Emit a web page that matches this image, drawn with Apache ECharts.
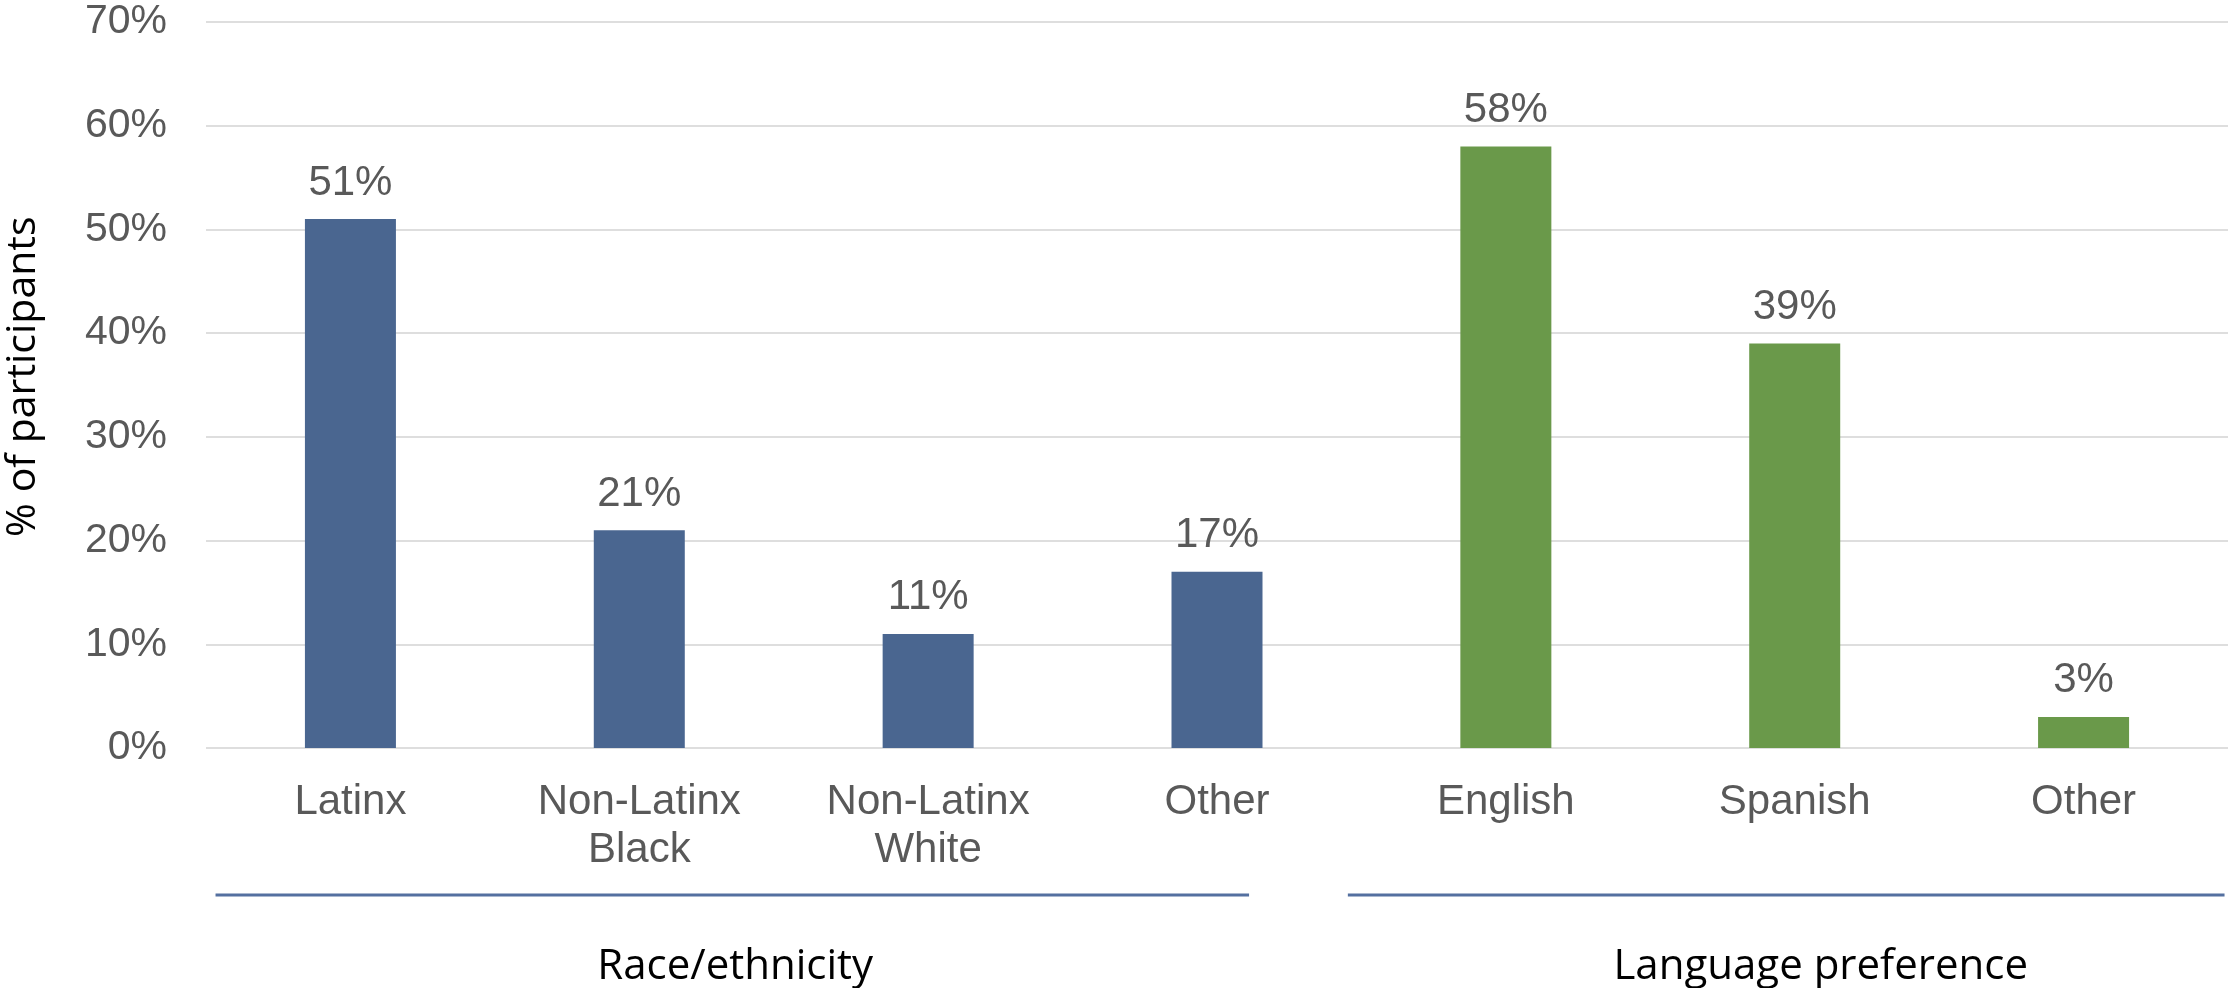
<!DOCTYPE html>
<html>
<head>
<meta charset="utf-8">
<title>Participants by race/ethnicity and language preference</title>
<script src="https://cdn.jsdelivr.net/npm/echarts@6/dist/echarts.min.js"></script>
<style>
  html, body { margin: 0; padding: 0; background: #ffffff; }
  #chart { width: 2228px; height: 988px; }
</style>
</head>
<body>
<div id="chart"></div>
<script>
// Category labels along the x axis
const categories = ['Latinx', 'Non-Latinx\nBlack', 'Non-Latinx\nWhite', 'Other', 'English', 'Spanish', 'Other'];
// Share of participants (%) per category
const values = [51, 21, 11, 17, 58, 39, 3];
// Group names and how many categories each group covers, in order
const groupNames = ['Race/ethnicity', 'Language preference'];
const groupSizes = [4, 3];
// Y axis ticks (%)
const yTicks = [0, 10, 20, 30, 40, 50, 60, 70];
const yTitle = '% of participants';

// Styling
const groupColors = ['#4a6690', '#6a994a'];
const bracketColor = '#5470a0';
// Bracket extents and label centres, in category-index units
const bracketSpans = [[-0.467, 3.111], [3.453, 6.488]];
const groupLabelAt = [1.332, 5.09];

const chart = echarts.init(document.getElementById('chart'));

const groupOf = [];
groupSizes.forEach((n, g) => { for (let i = 0; i < n; i++) groupOf.push(g); });

chart.setOption({
  animation: false,
  backgroundColor: '#ffffff',
  grid: { left: 206, right: 0, top: 22, bottom: 240, containLabel: false },
  xAxis: {
    type: 'category',
    data: categories,
    axisLine: { show: false },
    axisTick: { show: false },
    axisLabel: {
      interval: 0,
      margin: 30,
      fontFamily: 'Liberation Sans, Arial, sans-serif',
      fontSize: 42,
      lineHeight: 48,
      color: '#595959'
    }
  },
  yAxis: {
    type: 'value',
    min: yTicks[0],
    max: yTicks[yTicks.length - 1],
    interval: yTicks[1] - yTicks[0],
    axisLine: { show: false },
    axisTick: { show: false },
    splitLine: { lineStyle: { color: '#dedede', width: 2 } },
    axisLabel: {
      margin: 39,
      fontFamily: 'Liberation Sans, Arial, sans-serif',
      fontSize: 41,
      color: '#595959',
      formatter: v => v + '%'
    }
  },
  series: [{
    type: 'bar',
    barWidth: 91,
    data: values.map((v, i) => ({ value: v, itemStyle: { color: groupColors[groupOf[i]] } })),
    label: {
      show: true,
      position: 'top',
      distance: 15,
      fontFamily: 'Liberation Sans, Arial, sans-serif',
      fontSize: 42,
      color: '#595959',
      formatter: p => p.value + '%'
    }
  }]
});

// Y axis title and group brackets below the category labels,
// placed from the chart's scales
function drawOverlay() {
  const x0 = chart.convertToPixel({ xAxisIndex: 0 }, 0);
  const x1 = chart.convertToPixel({ xAxisIndex: 0 }, 1);
  const step = x1 - x0;
  const toPx = idx => x0 + idx * step;
  const yMid = chart.convertToPixel({ yAxisIndex: 0 }, 35.8);
  const elements = [{
    type: 'text',
    x: 23,
    y: yMid,
    rotation: Math.PI / 2,
    style: {
      text: yTitle,
      fontFamily: 'Open Sans, sans-serif',
      fontSize: 41,
      fill: '#000000',
      align: 'center',
      verticalAlign: 'middle'
    },
    silent: true
  }];
  groupNames.forEach((name, g) => {
    elements.push({
      type: 'line',
      shape: { x1: toPx(bracketSpans[g][0]), y1: 895, x2: toPx(bracketSpans[g][1]), y2: 895 },
      style: { stroke: bracketColor, lineWidth: 3 },
      silent: true
    });
    elements.push({
      type: 'text',
      x: toPx(groupLabelAt[g]),
      y: 967,
      style: {
        text: name,
        fontFamily: 'Open Sans, sans-serif',
        fontSize: 42,
        fill: '#000000',
        align: 'center',
        verticalAlign: 'middle'
      },
      silent: true
    });
  });
  chart.setOption({ graphic: { elements } });
}
drawOverlay();
</script>
</body>
</html>
